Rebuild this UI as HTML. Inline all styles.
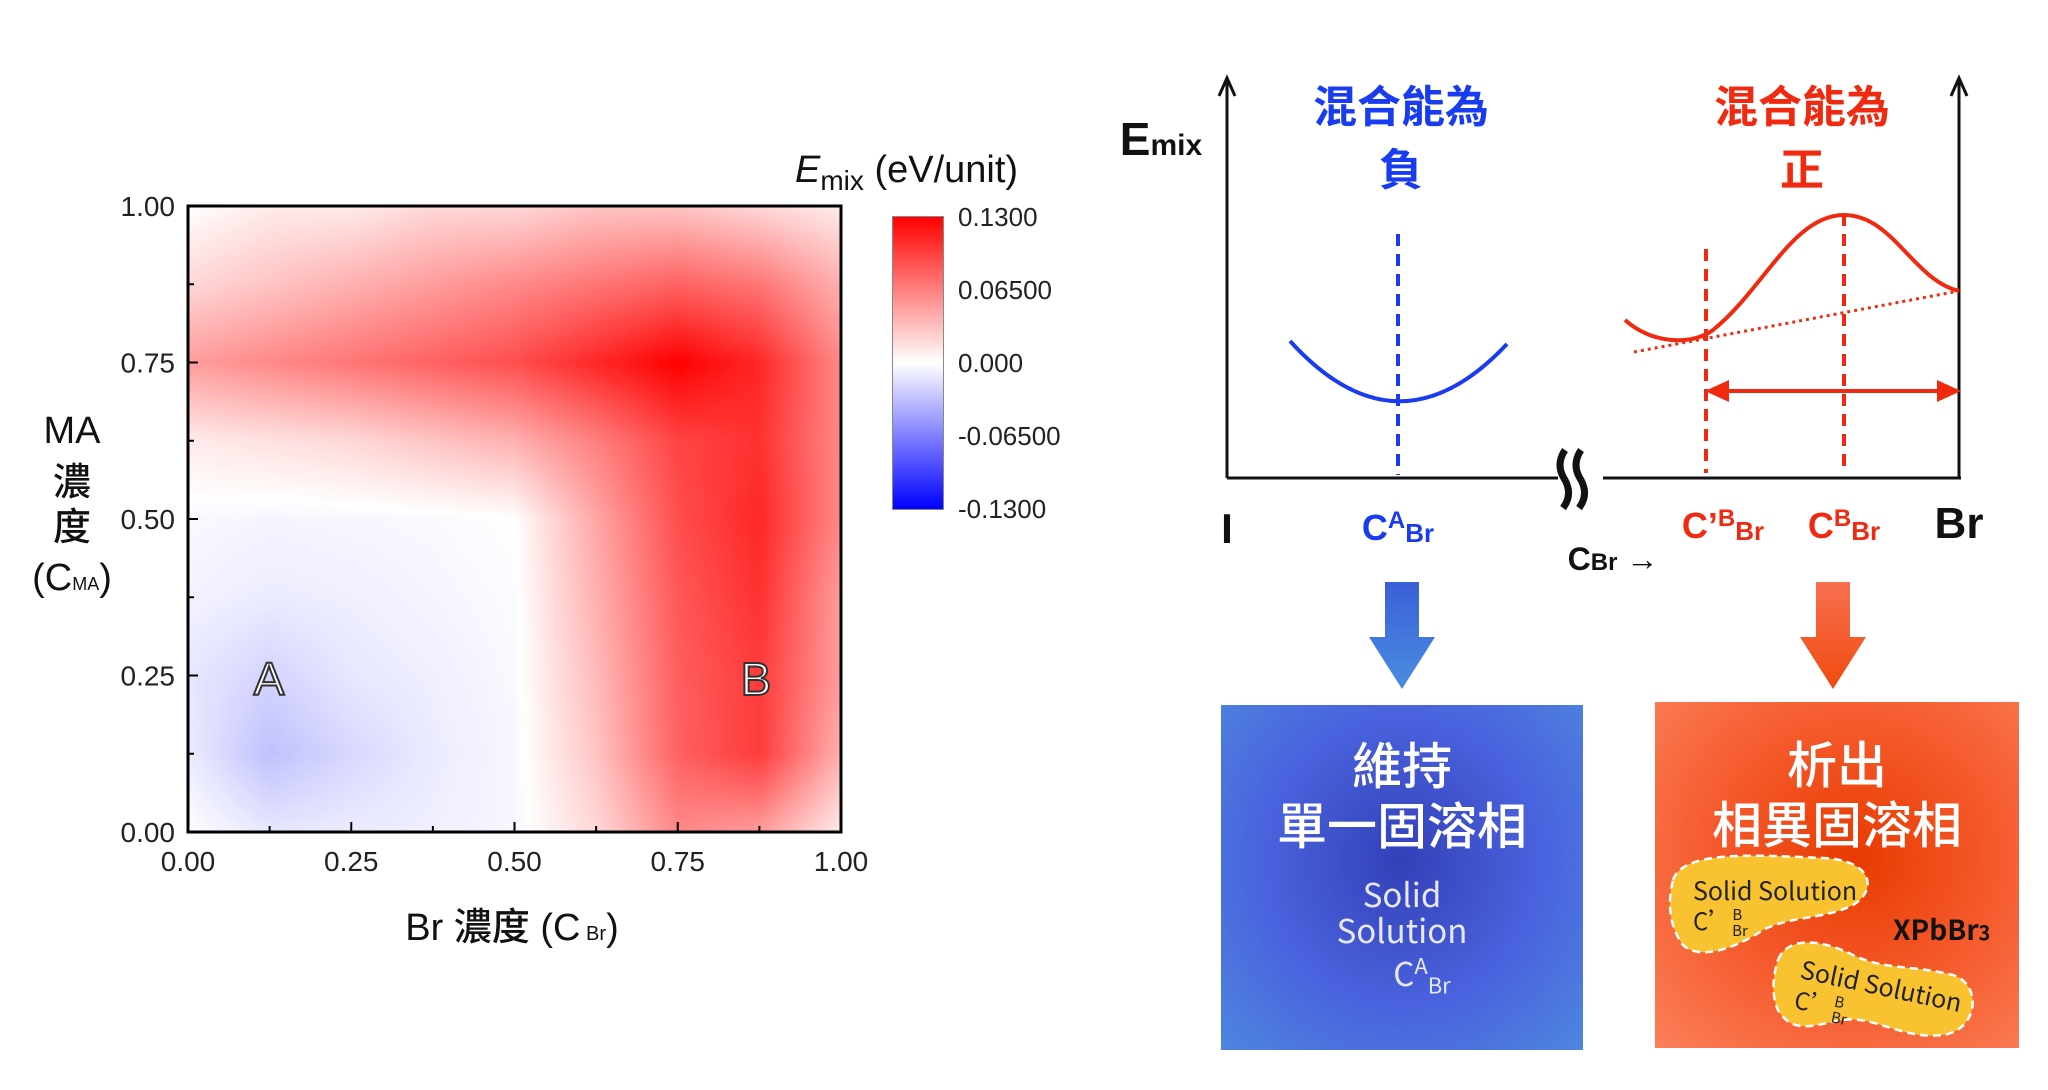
<!DOCTYPE html>
<html><head><meta charset="utf-8">
<style>
html,body{margin:0;padding:0;background:#fff;}
#root{position:relative;width:2048px;height:1090px;overflow:hidden;font-family:"Liberation Sans","Noto Sans CJK TC",sans-serif;}
#heat{position:absolute;left:188px;top:206px;width:653px;height:626px;}
#cbar{position:absolute;left:893px;top:217px;width:50px;height:292px;background:linear-gradient(to bottom,#ff0000,#ff8080 25%,#ffffff 50%,#8080ff 75%,#0000ff);outline:1px solid #888;}
svg{position:absolute;left:0;top:0;}
.box{position:absolute;color:#fff;text-align:center;font-family:"Noto Sans CJK TC",sans-serif;}
</style></head>
<body>
<div id="root">
<canvas id="heat" width="160" height="160"></canvas>
<div id="cbar"></div>
<svg id="main" width="2048" height="1090"></svg>

<div class="box" style="left:1221px;top:705px;width:362px;height:345px;background:radial-gradient(ellipse at 50% 45%,#3340b8 0%,#4a63de 55%,#4d86df 100%);">
  <div style="font-size:50px;line-height:60px;margin-top:28px;font-weight:500;">維持<br>單一固溶相</div>
  <div style="font-size:33px;line-height:36px;margin-top:22px;color:#e6e8ff;">Solid<br>Solution<br><span style="margin-left:40px">C<sup style="font-size:22px">A</sup><sub style="font-size:22px">Br</sub></span></div>
</div>
<div class="box" style="left:1655px;top:702px;width:364px;height:346px;background:radial-gradient(ellipse at 55% 45%,#e83a00 0%,#f55a2c 50%,#fb7f5a 100%);">
  <div style="font-size:50px;line-height:60px;margin-top:30px;font-weight:500;">析出<br>相異固溶相</div>
</div>
</div>
<script>
// ---- heatmap data (rows y = 0..1 step 0.125, cols x = 0..1 step 0.125)
const xNodes=[0,0.125,0.25,0.375,0.5,0.625,0.75,0.875,1];
const yNodes=[0,0.125,0.25,0.375,0.5,0.625,0.75,0.875,1];
const zRow0=[0,-0.012,-0.01,-0.008,-0.004,0.02,0.06,0.05,0.01];
const zRow1=[-0.01,-0.032,-0.02,-0.01,-0.004,0.03,0.08,0.10,0.04];
const zRow2=[-0.012,-0.022,-0.012,-0.008,-0.003,0.035,0.082,0.10,0.05];
const zRow3=[-0.006,-0.01,-0.008,-0.005,-0.002,0.04,0.085,0.105,0.05];
const zRow4=[-0.003,-0.005,-0.004,-0.003,0,0.045,0.09,0.11,0.06];
const zRow5=[0.01,0.015,0.02,0.03,0.04,0.065,0.095,0.105,0.06];
const zRow6=[0.05,0.06,0.07,0.08,0.09,0.11,0.13,0.11,0.06];
const zRow7=[0.02,0.03,0.04,0.05,0.06,0.07,0.08,0.07,0.04];
const zRow8=[0,0.01,0.01,0.02,0.02,0.03,0.03,0.02,0.01];
const zRows=[zRow0,zRow1,zRow2,zRow3,zRow4,zRow5,zRow6,zRow7,zRow8];
const xTicks=["0.00","0.25","0.50","0.75","1.00"];
const yTicks=["0.00","0.25","0.50","0.75","1.00"];
const cbarTicks=["0.1300","0.06500","0.000","-0.06500","-0.1300"];
const zMax=0.13;

const PX0=188,PX1=841,PY0=832,PY1=206;
const sx=v=>PX0+v*(PX1-PX0), sy=v=>PY0-v*(PY0-PY1);

function interp(x,y){
  const n=xNodes.length-1;
  let i=Math.min(n-1,Math.floor(x*n)), j=Math.min(n-1,Math.floor(y*n));
  const u=x*n-i, w=y*n-j;
  const a=zRows[j][i],b=zRows[j][i+1],c=zRows[j+1][i],d=zRows[j+1][i+1];
  return (a*(1-u)+b*u)*(1-w)+(c*(1-u)+d*u)*w;
}
function color(v){
  let t=Math.max(-1,Math.min(1,v/zMax));
  if(t>=0) return [255,Math.round(255*(1-t)),Math.round(255*(1-t))];
  t=-t; return [Math.round(255*(1-t)),Math.round(255*(1-t)),255];
}
const cv=document.getElementById('heat'),ctx=cv.getContext('2d');
const img=ctx.createImageData(160,160);
for(let py=0;py<160;py++)for(let px=0;px<160;px++){
  const c=color(interp((px+0.5)/160,1-(py+0.5)/160));
  const k=(py*160+px)*4;img.data[k]=c[0];img.data[k+1]=c[1];img.data[k+2]=c[2];img.data[k+3]=255;
}
ctx.putImageData(img,0,0);

const NS='http://www.w3.org/2000/svg';
const svg=document.getElementById('main');
let parent=svg;
function mk(tag,attrs,text){const e=document.createElementNS(NS,tag);for(const k in attrs)e.setAttribute(k,attrs[k]);if(text!==undefined)e.textContent=text;parent.appendChild(e);return e;}

let e;
e=mk('rect',{x:PX0,y:PY1,width:PX1-PX0,height:PY0-PY1,fill:'none',stroke:'#000','stroke-width':3});


for(let k=0;k<=8;k++){
  const v=k/8,len=k%2?6:10;
  e=mk('line',{x1:sx(v),x2:sx(v),y1:PY0,y2:PY0-len,stroke:'#000','stroke-width':2});
  
  
  e=mk('line',{x1:PX0,x2:PX0+len,y1:sy(v),y2:sy(v),stroke:'#000','stroke-width':2});
  
  
}
xTicks.forEach((t,i)=>{
  e=mk('text',{x:sx(i/4),y:871,'font-size':28,'text-anchor':'middle',fill:'#222'},t);
  
  
});
yTicks.forEach((t,i)=>{
  e=mk('text',{x:175,y:sy(i/4)+10,'font-size':28,'text-anchor':'end',fill:'#222'},t);
  
  
});
cbarTicks.forEach((t,i)=>{
  e=mk('text',{x:958,y:226+i*73,'font-size':26,fill:'#222'},t);
  
  
});
e=mk('text',{x:795,y:182,'font-size':38,fill:'#111'});
e.innerHTML='<tspan font-style="italic">E</tspan><tspan font-size="28" dy="8">mix</tspan><tspan dy="-8"> (eV/unit)</tspan>';



e=mk('text',{x:512,y:940,'font-size':38,'text-anchor':'middle',fill:'#111','font-weight':'500'});
e.innerHTML='Br 濃度 (C<tspan font-size="20"> Br</tspan>)';


const yl=[['MA',443],['濃',495],['度',540],['(C<tspan font-size="18">MA</tspan>)',590]];
yl.forEach(([t,y])=>{
  e=mk('text',{x:72,y:y,'font-size':38,'text-anchor':'middle',fill:'#111','font-weight':'500'});
  e.innerHTML=t;
  
  
});
[['A',269],['B',756]].forEach(([t,x])=>{
  e=mk('text',{x:x,y:695,'font-size':46,'text-anchor':'middle',fill:'#fff',stroke:'#333','stroke-width':2},t);
  
  
});

// ---- right schematic (shifted group)
const grp=document.createElementNS(NS,'g');
grp.setAttribute('transform','translate(-7,0)');


svg.appendChild(grp);
parent=grp;
function path(d,attrs,name){e=mk('path',Object.assign({d:d,fill:'none'},attrs));}
path('M1234 478 V82 M1226 96 L1234 78 L1242 96',{stroke:'#111','stroke-width':3},'left-energy-axis');
path('M1234 478 H1565 M1610 478 H1968',{stroke:'#111','stroke-width':3},'composition-axis');
path('M1966 478 V82 M1958 96 L1966 78 L1974 96',{stroke:'#111','stroke-width':3},'right-energy-axis');
path('M1572 450 q-10 15 0 30 q8 15 -2 28 M1588 450 q-10 15 0 30 q8 15 -2 28',{stroke:'#111','stroke-width':7},'axis-break');
path('M1297 341 Q1405 460 1514 344',{stroke:'#1a3cf0','stroke-width':4},'negative-mixing-curve');
path('M1405 234 V475',{stroke:'#1a3cf0','stroke-width':4,'stroke-dasharray':'12 8'},'blue-dashed-line');
path('M1632 320 C1660 345 1700 345 1720 330 C1770 290 1800 215 1851 215 C1900 215 1920 280 1966 291',{stroke:'#f02a10','stroke-width':4},'positive-mixing-curve');
path('M1713 249 V473 M1851 214 V473',{stroke:'#f02a10','stroke-width':4,'stroke-dasharray':'12 8'},'red-dashed-lines');
path('M1641 352 L1966 291',{stroke:'#f02a10','stroke-width':3,'stroke-dasharray':'3 4'},'common-tangent-line');
path('M1730 391 H1950',{stroke:'#f02a10','stroke-width':4},'miscibility-gap-arrow');
path('M1712 391 L1736 380 L1736 402 Z M1968 391 L1944 380 L1944 402 Z',{fill:'#f02a10'},'arrow-heads');

function label(x,y,html,fill,size,name,anchor){e=mk('text',{x:x,y:y,'font-size':size,'font-weight':'bold',fill:fill,'text-anchor':anchor||'middle'});e.innerHTML=html;}
label(1168,155,'E<tspan font-size="30">mix</tspan>','#111',46,'emix-axis-label');
label(1234,543,'I','#111',42,'iodine-label');
label(1405,540,'C<tspan font-size="24" dy="-12">A</tspan><tspan font-size="26" dy="14">Br</tspan>','#1a3cf0',36,'c-a-br-label');
label(1730,538,'C’<tspan font-size="24" dy="-12">B</tspan><tspan font-size="26" dy="14">Br</tspan>','#f02a10',36,'c-prime-b-br-label');
label(1851,538,'C<tspan font-size="24" dy="-12">B</tspan><tspan font-size="26" dy="14">Br</tspan>','#f02a10',36,'c-b-br-label');
label(1966,538,'Br','#111',44,'bromine-label');
label(1620,570,'C<tspan font-size="24">Br</tspan> →','#111',32,'c-br-axis-label');
label(1408,122,'混合能為','#1a3cf0',44,'negative-title');
label(1408,185,'負','#1a3cf0',44,'negative-title-2');
label(1809,122,'混合能為','#f02a10',44,'positive-title');
label(1809,185,'正','#f02a10',44,'positive-title-2');

const defs=document.createElementNS(NS,'defs');
defs.innerHTML='<linearGradient id="gb" x1="0" y1="0" x2="0" y2="1"><stop offset="0" stop-color="#3a5fd8"/><stop offset="1" stop-color="#4a8de0"/></linearGradient><linearGradient id="gr" x1="0" y1="0" x2="0" y2="1"><stop offset="0" stop-color="#f87050"/><stop offset="1" stop-color="#f04a10"/></linearGradient>';
svg.appendChild(defs);
path('M1392 582 H1426 V637 H1442 L1409 689 L1376 637 H1392 Z',{fill:'url(#gb)'},'down-arrow-blue');
path('M1823 582 H1857 V637 H1873 L1840 689 L1807 637 H1823 Z',{fill:'url(#gr)'},'down-arrow-red');
</script>
<svg width="2048" height="1090" style="position:absolute;left:0;top:0;">
 <g transform="translate(-7,0)">
  <path d="M1680 880 C1690 850 1760 855 1830 858 C1880 860 1885 890 1860 905 C1830 920 1800 915 1770 930 C1740 950 1705 960 1690 945 C1675 925 1675 900 1680 880 Z" fill="#f8c230" stroke="#fff" stroke-width="2.5" stroke-dasharray="8 5"/>
  <path d="M1785 960 C1795 935 1830 940 1860 955 C1890 970 1920 965 1960 975 C1990 985 1985 1030 1950 1035 C1910 1040 1880 1015 1850 1020 C1820 1025 1800 1035 1785 1010 C1778 995 1780 975 1785 960 Z" fill="#f8c230" stroke="#fff" stroke-width="2.5" stroke-dasharray="8 5"/>
  <text x="1700" y="900" font-size="25" fill="#222" font-family="Noto Sans CJK TC,sans-serif">Solid Solution</text>
  <text x="1700" y="930" font-size="24" fill="#222" font-family="Noto Sans CJK TC,sans-serif">C’<tspan font-size="15" dy="-10">B</tspan><tspan font-size="15" dx="-10" dy="16">Br</tspan></text>
  <text x="1806" y="978" font-size="25" fill="#222" font-family="Noto Sans CJK TC,sans-serif" transform="rotate(12 1806 978)">Solid Solution</text>
  <text x="1800" y="1008" font-size="24" fill="#222" font-family="Noto Sans CJK TC,sans-serif" transform="rotate(12 1800 1008)">C’<tspan font-size="15" dy="-10">B</tspan><tspan font-size="15" dx="-10" dy="16">Br</tspan></text>
  <text x="1900" y="940" font-size="28" font-weight="bold" fill="#111" font-family="Noto Sans CJK TC,sans-serif">XPbBr<tspan font-size="20">3</tspan></text>
 </g>
</svg>
</body></html>
